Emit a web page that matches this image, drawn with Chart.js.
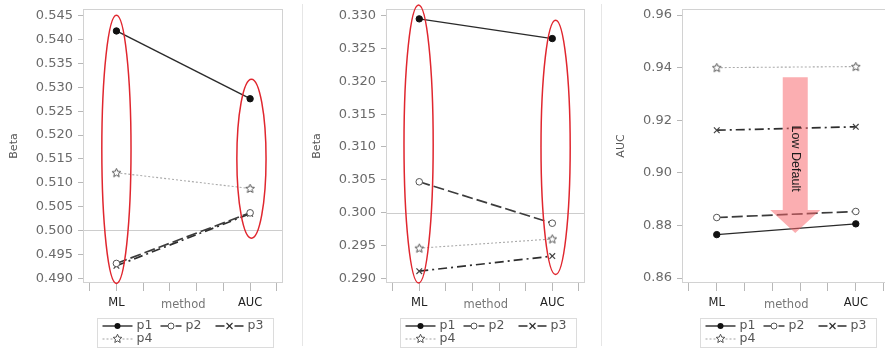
<!DOCTYPE html>
<html><head><meta charset="utf-8">
<script src="https://cdn.jsdelivr.net/npm/chart.js@4/dist/chart.umd.min.js"></script>
<style>
html,body{margin:0;padding:0;background:#fff;width:885px;height:349px;overflow:hidden;position:relative}
.pane{position:absolute;top:0;height:349px}
.sep{position:absolute;top:4px;width:1px;height:342px;background:#e6e6e6}
</style></head><body>
<div class="pane" style="left:0;width:300px"><canvas id="c1" width="300" height="349"></canvas></div>
<div class="sep" style="left:302px"></div>
<div class="pane" style="left:303px;width:300px"><canvas id="c2" width="300" height="349"></canvas></div>
<div class="sep" style="left:601px"></div>
<div class="pane" style="left:603px;width:310px"><canvas id="c3" width="310" height="349"></canvas></div>
<script>
// ---------- data ----------
const categories = ['ML', 'AUC'];
const seriesNames = ['p1', 'p2', 'p3', 'p4'];
const xTickValues = [0.8, 1.0, 1.2, 1.4, 1.6, 1.8, 2.0, 2.2];

// left panel (Beta)
const betaLeftP1 = [0.5418, 0.5276];
const betaLeftP2 = [0.4931, 0.5037];
const betaLeftP3 = [0.4926, 0.5035];
const betaLeftP4 = [0.5121, 0.5088];
const betaLeftTicks = [0.490, 0.495, 0.500, 0.505, 0.510, 0.515, 0.520, 0.525, 0.530, 0.535, 0.540, 0.545];

// middle panel (Beta)
const betaMidP1 = [0.3295, 0.3265];
const betaMidP2 = [0.3047, 0.2984];
const betaMidP3 = [0.2911, 0.2934];
const betaMidP4 = [0.2946, 0.2960];
const betaMidTicks = [0.290, 0.295, 0.300, 0.305, 0.310, 0.315, 0.320, 0.325, 0.330];

// right panel (AUC)
const aucP1 = [0.8765, 0.8806];
const aucP2 = [0.8830, 0.8853];
const aucP3 = [0.9162, 0.9175];
const aucP4 = [0.9400, 0.9404];
const aucTicks = [0.86, 0.88, 0.90, 0.92, 0.94, 0.96];

// annotations (data units)
const betaLeftRings = [{cx: 1.0, y0: 0.4889, y1: 0.5451}, {cx: 2.01, y0: 0.4984, y1: 0.5317}];
const betaMidRings = [{cx: 0.995, y0: 0.2893, y1: 0.3316}, {cx: 2.025, y0: 0.2906, y1: 0.3293}];
const aucArrow = {x: 1.5645, top: 0.9363, neck: 0.8859, tip: 0.8771, labelY: 0.9054, label: 'Low Default'};

// ---------- styles ----------
Chart.defaults.font.family = "'DejaVu Sans', sans-serif";
Chart.defaults.animation = false;

function makeStar(color) {
  const c = document.createElement('canvas');
  c.width = 11; c.height = 11;
  const g = c.getContext('2d');
  g.beginPath();
  for (let i = 0; i < 10; i++) {
    const r = i % 2 === 0 ? 4.6 : 2.1;
    const a = -Math.PI / 2 + i * Math.PI / 5;
    const px = 5.5 + r * Math.cos(a), py = 5.8 + r * Math.sin(a);
    i === 0 ? g.moveTo(px, py) : g.lineTo(px, py);
  }
  g.closePath();
  g.fillStyle = '#fff'; g.fill();
  g.strokeStyle = color; g.lineWidth = 1; g.stroke();
  return c;
}
const starImg = makeStar('#555');

const seriesStyles = [
  {borderColor: '#2a2a2a', borderWidth: 1.4, borderDash: [], pointStyle: 'circle', pointRadius: 3.2,
   pointBackgroundColor: '#111', pointBorderColor: '#111', pointBorderWidth: 1, marker: 'dot'},
  {borderColor: '#3c3c3c', borderWidth: 1.7, borderDash: [11, 4], pointStyle: 'circle', pointRadius: 3.3,
   pointBackgroundColor: '#fff', pointBorderColor: '#555', pointBorderWidth: 1, marker: 'ring'},
  {borderColor: '#2e2e2e', borderWidth: 1.7, borderDash: [9, 4, 2, 4], pointStyle: 'crossRot', pointRadius: 4,
   pointBackgroundColor: '#fff', pointBorderColor: '#444', pointBorderWidth: 1.2, marker: 'x'},
  {borderColor: '#ababab', borderWidth: 1.1, borderDash: [2, 2], pointStyle: starImg, pointRadius: 5,
   pointBackgroundColor: '#fff', pointBorderColor: '#555', pointBorderWidth: 1, marker: 'star'}
];

function drawMarker(ctx, kind, x, y) {
  ctx.save();
  ctx.setLineDash([]);
  if (kind === 'dot') {
    ctx.fillStyle = '#111'; ctx.beginPath(); ctx.arc(x, y, 3, 0, Math.PI * 2); ctx.fill();
  } else if (kind === 'ring') {
    ctx.fillStyle = '#fff'; ctx.strokeStyle = '#555'; ctx.lineWidth = 1;
    ctx.beginPath(); ctx.arc(x, y, 3, 0, Math.PI * 2); ctx.fill(); ctx.stroke();
  } else if (kind === 'x') {
    ctx.strokeStyle = '#333'; ctx.lineWidth = 1.2; ctx.beginPath();
    ctx.moveTo(x - 3, y - 3); ctx.lineTo(x + 3, y + 3); ctx.moveTo(x - 3, y + 3); ctx.lineTo(x + 3, y - 3); ctx.stroke();
  } else if (kind === 'star') {
    ctx.drawImage(starImg, Math.round(x - 5.5), Math.round(y - 5.8));
  }
  ctx.restore();
}

// ---------- decoration plugin ----------
const deco = {
  id: 'deco',
  beforeDatasetsDraw(chart, args, o) {
    const {ctx, chartArea: a, scales: {y}} = chart;
    ctx.save();
    if (o.ref != null) {
      const py = Math.round(y.getPixelForValue(o.ref)) + 0.5;
      ctx.strokeStyle = '#cdcdcd'; ctx.lineWidth = 1;
      ctx.beginPath(); ctx.moveTo(a.left, py); ctx.lineTo(a.right, py); ctx.stroke();
    }
    ctx.strokeStyle = '#d2d2d2'; ctx.lineWidth = 1;
    ctx.strokeRect(Math.round(a.left) + 0.5, Math.round(a.top) + 0.5, Math.round(a.right - a.left) - 1, Math.round(a.bottom - a.top) - 1);
    ctx.restore();
  },
  afterDatasetsDraw(chart, args, o) {
    const {ctx, scales: {x, y}} = chart;
    ctx.save();
    (o.rings || []).forEach(r => {
      const cx = x.getPixelForValue(r.cx);
      const t = y.getPixelForValue(r.y1), b = y.getPixelForValue(r.y0);
      ctx.strokeStyle = '#e0262e'; ctx.lineWidth = 1.5;
      ctx.beginPath(); ctx.ellipse(cx, (t + b) / 2, 14.6, (b - t) / 2, 0, 0, Math.PI * 2); ctx.stroke();
    });
    const ar = o.arrow;
    if (ar) {
      const cx = x.getPixelForValue(ar.x);
      const t = y.getPixelForValue(ar.top), n = y.getPixelForValue(ar.neck), tip = y.getPixelForValue(ar.tip);
      ctx.fillStyle = 'rgba(248,100,106,0.52)';
      ctx.beginPath();
      ctx.moveTo(cx - 12.5, t); ctx.lineTo(cx + 12.5, t); ctx.lineTo(cx + 12.5, n); ctx.lineTo(cx + 25, n);
      ctx.lineTo(cx, tip); ctx.lineTo(cx - 25, n); ctx.lineTo(cx - 12.5, n); ctx.closePath(); ctx.fill();
      ctx.translate(cx, y.getPixelForValue(ar.labelY));
      ctx.rotate(Math.PI / 2);
      ctx.fillStyle = '#1a1a1a'; ctx.font = "12.5px 'Liberation Sans', sans-serif";
      ctx.textAlign = 'center'; ctx.textBaseline = 'middle';
      ctx.fillText(ar.label, 0, 0);
    }
    ctx.restore();
  },
  afterDraw(chart, args, o) {
    const {ctx, chartArea: a, scales: {x}} = chart;
    ctx.save();
    const mid = x.getPixelForValue(1.5);
    ctx.fillStyle = '#777'; ctx.font = "11.5px 'DejaVu Sans', sans-serif";
    ctx.textAlign = 'center'; ctx.textBaseline = 'middle';
    ctx.fillText('method', mid, a.bottom + 22.5);
    // legend
    const bw = 176, bl = Math.round(mid + 2 - bw / 2) + 0.5, bt = Math.round(a.bottom + 35) + 0.5;
    ctx.strokeStyle = '#dcdcdc'; ctx.lineWidth = 1;
    ctx.strokeRect(bl, bt, bw, 29);
    const itemX = [5, 63, 118, 5];
    const itemW = [30, 21, 28, 30];
    const rowY = [bt + 7.5, bt + 7.5, bt + 7.5, bt + 20.5];
    ctx.font = "12.5px 'DejaVu Sans', sans-serif"; ctx.textAlign = 'left';
    chart.data.datasets.forEach((ds, i) => {
      const s = seriesStyles[i];
      const x0 = bl + itemX[i], yy = rowY[i];
      ctx.save();
      ctx.strokeStyle = s.borderColor; ctx.lineWidth = s.borderWidth; ctx.setLineDash(s.borderDash);
      ctx.beginPath(); ctx.moveTo(x0, yy); ctx.lineTo(x0 + itemW[i], yy); ctx.stroke();
      ctx.restore();
      drawMarker(ctx, s.marker, x0 + itemW[i] / 2, yy);
      ctx.fillStyle = '#555';
      ctx.fillText(ds.label, x0 + itemW[i] + 4, yy);
    });
    ctx.restore();
  }
};

// ---------- build ----------
function buildPanel(p) {
  const datasets = p.series.map((vals, i) => {
    const s = seriesStyles[i];
    return {
      label: seriesNames[i],
      data: vals.map((v, j) => ({x: j + 1, y: v})),
      borderColor: s.borderColor, borderWidth: s.borderWidth, borderDash: s.borderDash,
      pointStyle: s.pointStyle, pointRadius: s.pointRadius,
      pointBackgroundColor: s.pointBackgroundColor, pointBorderColor: s.pointBorderColor,
      pointBorderWidth: s.pointBorderWidth, fill: false, tension: 0
    };
  });
  new Chart(document.getElementById(p.id), {
    type: 'line',
    data: {datasets},
    plugins: [deco],
    options: {
      responsive: false,
      layout: {padding: {top: 9, right: p.padRight, bottom: 0, left: 0}},
      plugins: {
        legend: {display: false}, tooltip: {enabled: false},
        deco: {ref: p.ref, rings: p.rings, arrow: p.arrow}
      },
      scales: {
        x: {
          type: 'linear', min: 0.75, max: 2.246,
          afterBuildTicks: s => { s.ticks = xTickValues.map(v => ({value: v})); },
          afterFit: s => { s.height = 66; s.paddingLeft = 0; s.paddingRight = 0; },
          border: {display: false},
          grid: {drawOnChartArea: false, drawTicks: true, tickLength: 8, tickColor: '#b8b8b8'},
          ticks: {
            autoSkip: false, maxRotation: 0, padding: 5, color: '#222',
            font: {size: 11.5},
            callback: v => {
              const r = Math.round(v);
              return Math.abs(v - r) < 1e-6 && categories[r - 1] ? categories[r - 1] : '';
            }
          }
        },
        y: {
          type: 'linear', min: p.yMin, max: p.yMax,
          afterBuildTicks: s => { s.ticks = p.yTicks.map(v => ({value: v})); },
          afterFit: s => { s.width = p.yWidth; s.paddingTop = 0; s.paddingBottom = 0; },
          border: {display: false},
          grid: {drawOnChartArea: false, drawTicks: true, tickLength: 5, tickColor: '#b8b8b8'},
          ticks: {padding: 5, color: '#6a6a6a', font: {size: 13}, callback: v => v.toFixed(p.digits)},
          title: {display: true, text: p.yTitle, color: '#555', font: {size: 11}, padding: {top: p.titlePad, bottom: 0}}
        }
      }
    }
  });
}

buildPanel({id: 'c1', yTitle: 'Beta', yMin: 0.4890, yMax: 0.5464, yTicks: betaLeftTicks, digits: 3,
  series: [betaLeftP1, betaLeftP2, betaLeftP3, betaLeftP4], ref: 0.500, rings: betaLeftRings, arrow: null,
  yWidth: 83, padRight: 17, titlePad: 8});
buildPanel({id: 'c2', yTitle: 'Beta', yMin: 0.2893, yMax: 0.3310, yTicks: betaMidTicks, digits: 3,
  series: [betaMidP1, betaMidP2, betaMidP3, betaMidP4], ref: 0.300, rings: betaMidRings, arrow: null,
  yWidth: 83, padRight: 18, titlePad: 8});
buildPanel({id: 'c3', yTitle: 'AUC', yMin: 0.8581, yMax: 0.9623, yTicks: aucTicks, digits: 2,
  series: [aucP1, aucP2, aucP3, aucP4], ref: null, rings: [], arrow: aucArrow,
  yWidth: 79, padRight: 23, titlePad: 11.5});
</script>
</body></html>
